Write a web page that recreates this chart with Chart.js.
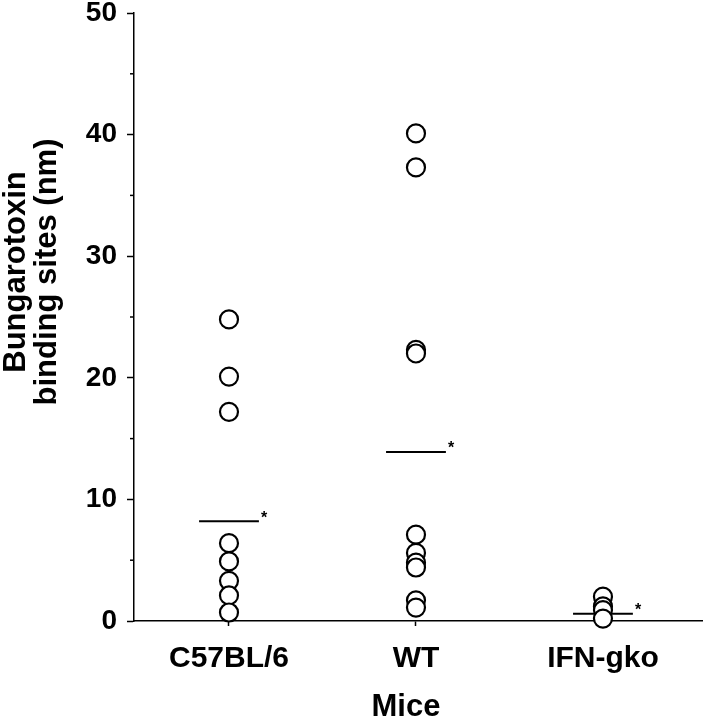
<!DOCTYPE html>
<html>
<head>
<meta charset="utf-8">
<script src="https://cdn.jsdelivr.net/npm/chart.js@4"></script>
<style>
html, body { margin: 0; padding: 0; background: #fff; }
</style>
</head>
<body>
<canvas id="miceChart" width="703" height="719"></canvas>
<script>
// Data
const groups = ['C57BL/6', 'WT', 'IFN-gko'];
const c57Values = [24.8, 20.1, 17.2, 6.4, 4.9, 3.3, 2.1, 0.7];
const wtValues = [40.1, 37.3, 22.3, 22.0, 7.1, 5.6, 4.8, 4.4, 1.7, 1.1];
const ifnValues = [2.0, 1.2, 0.9, 0.2];
const groupMeans = [8.2, 13.9, 0.6];
const yTicks = [0, 10, 20, 30, 40, 50];
const minorTicks = [5, 15, 25, 35, 45];
const yTitle = ['Bungarotoxin', 'binding sites (nm)'];
const xTitle = 'Mice';

const FONT = '"Liberation Sans", Arial, Helvetica, sans-serif';
const meanHalf = 0.16;

function toPoints(values, idx) {
    return values.map(v => ({ x: idx + 1, y: v }));
}

const pointStyle = {
    type: 'scatter',
    pointRadius: 9,
    pointBorderWidth: 2.2,
    pointBorderColor: '#000',
    pointBackgroundColor: '#fff',
    clip: false
};

const datasets = [c57Values, wtValues, ifnValues].map((vals, i) =>
    Object.assign({ data: toPoints(vals, i) }, pointStyle));

groupMeans.forEach((m, i) => {
    datasets.push({
        type: 'line',
        data: [{ x: i + 1 - meanHalf, y: m }, { x: i + 1 + meanHalf, y: m }],
        borderColor: '#000',
        borderWidth: 2,
        pointRadius: 0,
        fill: false
    });
});

// minor y ticks, asterisks next to the means, axis titles
const extras = {
    id: 'extras',
    afterDraw(chart) {
        const ctx = chart.ctx;
        const xs = chart.scales.x, ys = chart.scales.y;
        ctx.save();
        ctx.strokeStyle = '#000';
        ctx.lineWidth = 1.5;
        minorTicks.forEach(v => {
            const py = ys.getPixelForValue(v);
            ctx.beginPath();
            ctx.moveTo(ys.right - 4, py);
            ctx.lineTo(ys.right, py);
            ctx.stroke();
        });
        ctx.fillStyle = '#000';
        ctx.font = 'bold 16px ' + FONT;
        ctx.textAlign = 'left';
        ctx.textBaseline = 'middle';
        groupMeans.forEach((m, i) => {
            const px = xs.getPixelForValue(i + 1 + meanHalf);
            const py = ys.getPixelForValue(m);
            ctx.fillText('*', px + 2, py - 3);
        });

        // x title, a little left of the middle group as in the original
        ctx.font = 'bold 31px ' + FONT;
        ctx.textAlign = 'center';
        ctx.textBaseline = 'alphabetic';
        ctx.fillText(xTitle, xs.getPixelForValue(2) - 10, 716);

        // y title, two rotated lines
        ctx.translate(0, 272);
        ctx.rotate(-Math.PI / 2);
        ctx.textBaseline = 'middle';
        yTitle.forEach((line, i) => {
            ctx.fillText(line, 0, 16 + i * 31);
        });
        ctx.restore();
    }
};

new Chart(document.getElementById('miceChart'), {
    type: 'scatter',
    data: { datasets: datasets },
    options: {
        responsive: false,
        animation: false,
        layout: { autoPadding: false, padding: { top: 13, right: 0, bottom: 0, left: 0 } },
        plugins: {
            legend: { display: false },
            tooltip: { enabled: false }
        },
        scales: {
            x: {
                type: 'linear',
                min: 0.492,
                max: 3.535,
                afterBuildTicks: s => { s.ticks = groups.map((g, i) => ({ value: i + 1 })); },
                afterFit: s => { s.height = 98; s.paddingLeft = 0; s.paddingRight = 0; },
                ticks: {
                    color: '#000',
                    font: { family: FONT, size: 30, weight: 'bold' },
                    padding: 15,
                    maxRotation: 0,
                    callback: v => groups[v - 1]
                },
                grid: { drawOnChartArea: false, tickLength: 5, color: '#000', tickWidth: 1.5 },
                border: { color: '#000', width: 1.5 }
            },
            y: {
                min: 0,
                max: 50,
                afterBuildTicks: s => { s.ticks = yTicks.map(v => ({ value: v })); },
                afterFit: s => { s.width = 134; s.paddingTop = 0; s.paddingBottom = 0; },
                ticks: {
                    color: '#000',
                    font: { family: FONT, size: 28, weight: 'bold' },
                    padding: 10
                },
                grid: { drawOnChartArea: false, tickLength: 7, color: '#000', tickWidth: 1.5 },
                border: { color: '#000', width: 1.5 }
            }
        }
    },
    plugins: [extras]
});
</script>
</body>
</html>
